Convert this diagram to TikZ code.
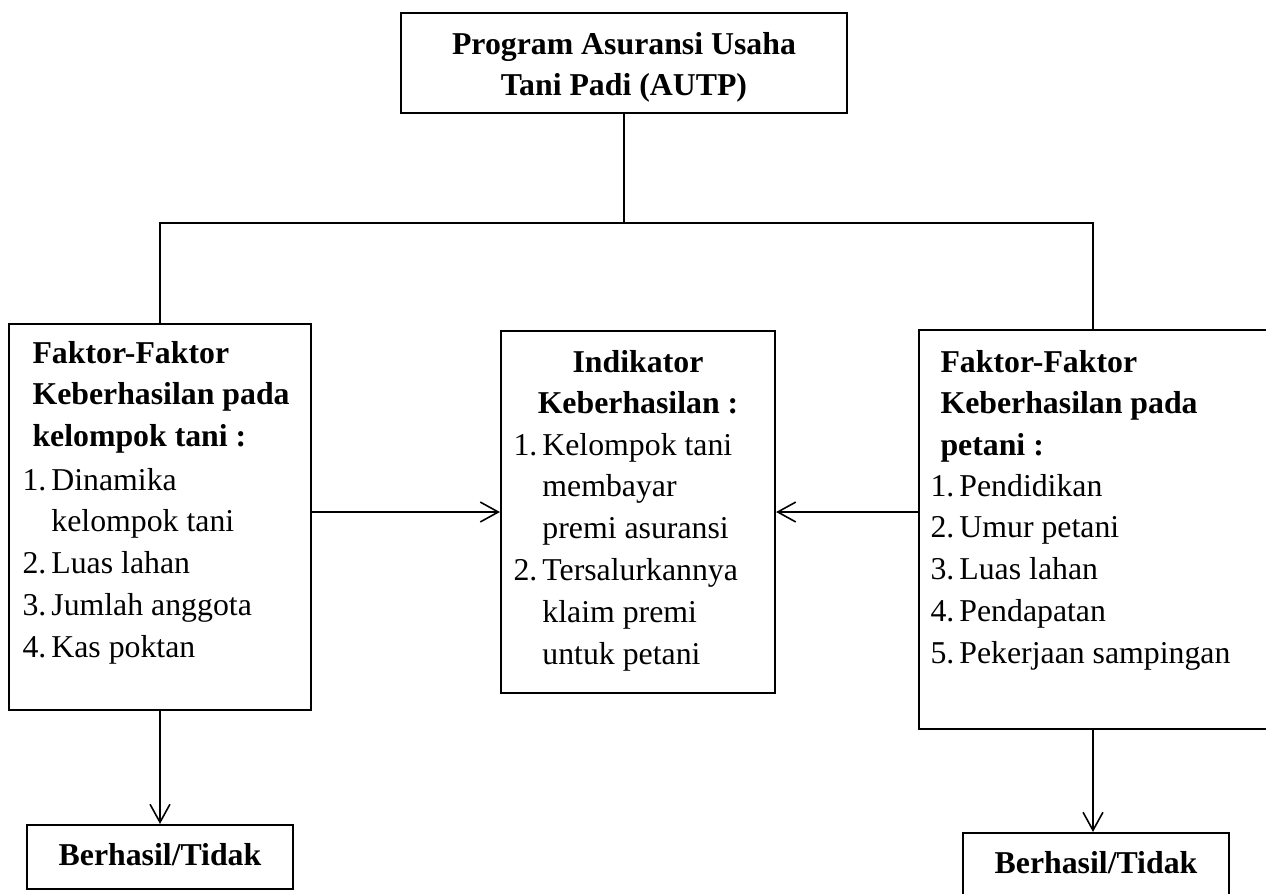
\documentclass[tikz,border=0pt]{standalone}
\usepackage{fontspec}
\setmainfont{Liberation Serif}
\usetikzlibrary{arrows.meta, fit}

\begin{document}
\begin{tikzpicture}[
    x=0.3774pt, y=-0.3774pt,
    block/.style={draw, line width=0.8pt, inner sep=0pt},
    heading/.style={inner sep=0pt, font=\fontsize{12}{15.8}\selectfont\bfseries},
    listing/.style={inner sep=0pt, anchor=base west, font=\fontsize{12}{15.8}\selectfont},
    link/.style={line width=0.6pt},
    flow/.style={link, -{Straight Barb[length=6.8pt, width=7.5pt]}},
]
\useasboundingbox (0,0) rectangle (1266,893);

% Boxes
\node[block, fit={(401,13) (847,113)}] (prog) {};
\node[block, fit={(9,324) (311,710)}] (kelompok) {};
\node[block, fit={(501,331) (775,693)}] (indikator) {};
\node[block, fit={(919,330) (1267,729)}] (petani) {};
\node[block, fit={(27,825) (293,889)}] (hasilkiri) {};
\node[block, fit={(963,833) (1229,897)}] (hasilkanan) {};

% Texts
\node[heading, anchor=base] (progtext) at (624,54)
    {\begin{tabular}[t]{@{}c@{}}Program Asuransi Usaha\\Tani Padi (AUTP)\end{tabular}};

\node[heading, anchor=base west] (kelompokhead) at (32,363)
    {\begin{tabular}[t]{@{}l@{}}Faktor-Faktor\\Keberhasilan pada\\kelompok tani :\end{tabular}};
\node[listing] (kelompoklist) at (22,490)
    {\begin{tabular}[t]{@{}p{10.9pt}@{}l@{}}1.&Dinamika\\&kelompok tani\\2.&Luas lahan\\3.&Jumlah anggota\\4.&Kas poktan\end{tabular}};

\node[heading, anchor=base] (indikatorhead) at (638,372)
    {\begin{tabular}[t]{@{}c@{}}Indikator\\Keberhasilan :\end{tabular}};
\node[listing] (indikatorlist) at (513,455)
    {\begin{tabular}[t]{@{}p{10.9pt}@{}l@{}}1.&Kelompok tani\\&membayar\\&premi asuransi\\2.&Tersalurkannya\\&klaim premi\\&untuk petani\end{tabular}};

\node[heading, anchor=base west] (petanihead) at (940,372)
    {\begin{tabular}[t]{@{}l@{}}Faktor-Faktor\\Keberhasilan pada\\petani :\end{tabular}};
\node[listing] (petanilist) at (930,496)
    {\begin{tabular}[t]{@{}p{10.9pt}@{}l@{}}1.&Pendidikan\\2.&Umur petani\\3.&Luas lahan\\4.&Pendapatan\\5.&Pekerjaan sampingan\end{tabular}};

\node[heading, anchor=base] (hasilkiritext) at (160,865) {Berhasil/Tidak};
\node[heading, anchor=base] (hasilkanantext) at (1096,873) {Berhasil/Tidak};

% Connectors
\coordinate (split) at (prog.south |- 0,223);
\draw[link] (prog) -- (split);
\draw[link] (kelompok.north) |- (split) -| (petani.north);
\draw[flow] (kelompok.east |- indikator.west) -- (indikator.west);
\draw[flow] (petani.west |- indikator.east) -- (indikator.east);
\draw[flow] (kelompok.south) -- (kelompok.south |- hasilkiri.north);
\draw[flow] (petani.south) -- (petani.south |- hasilkanan.north);

\end{tikzpicture}
\end{document}
